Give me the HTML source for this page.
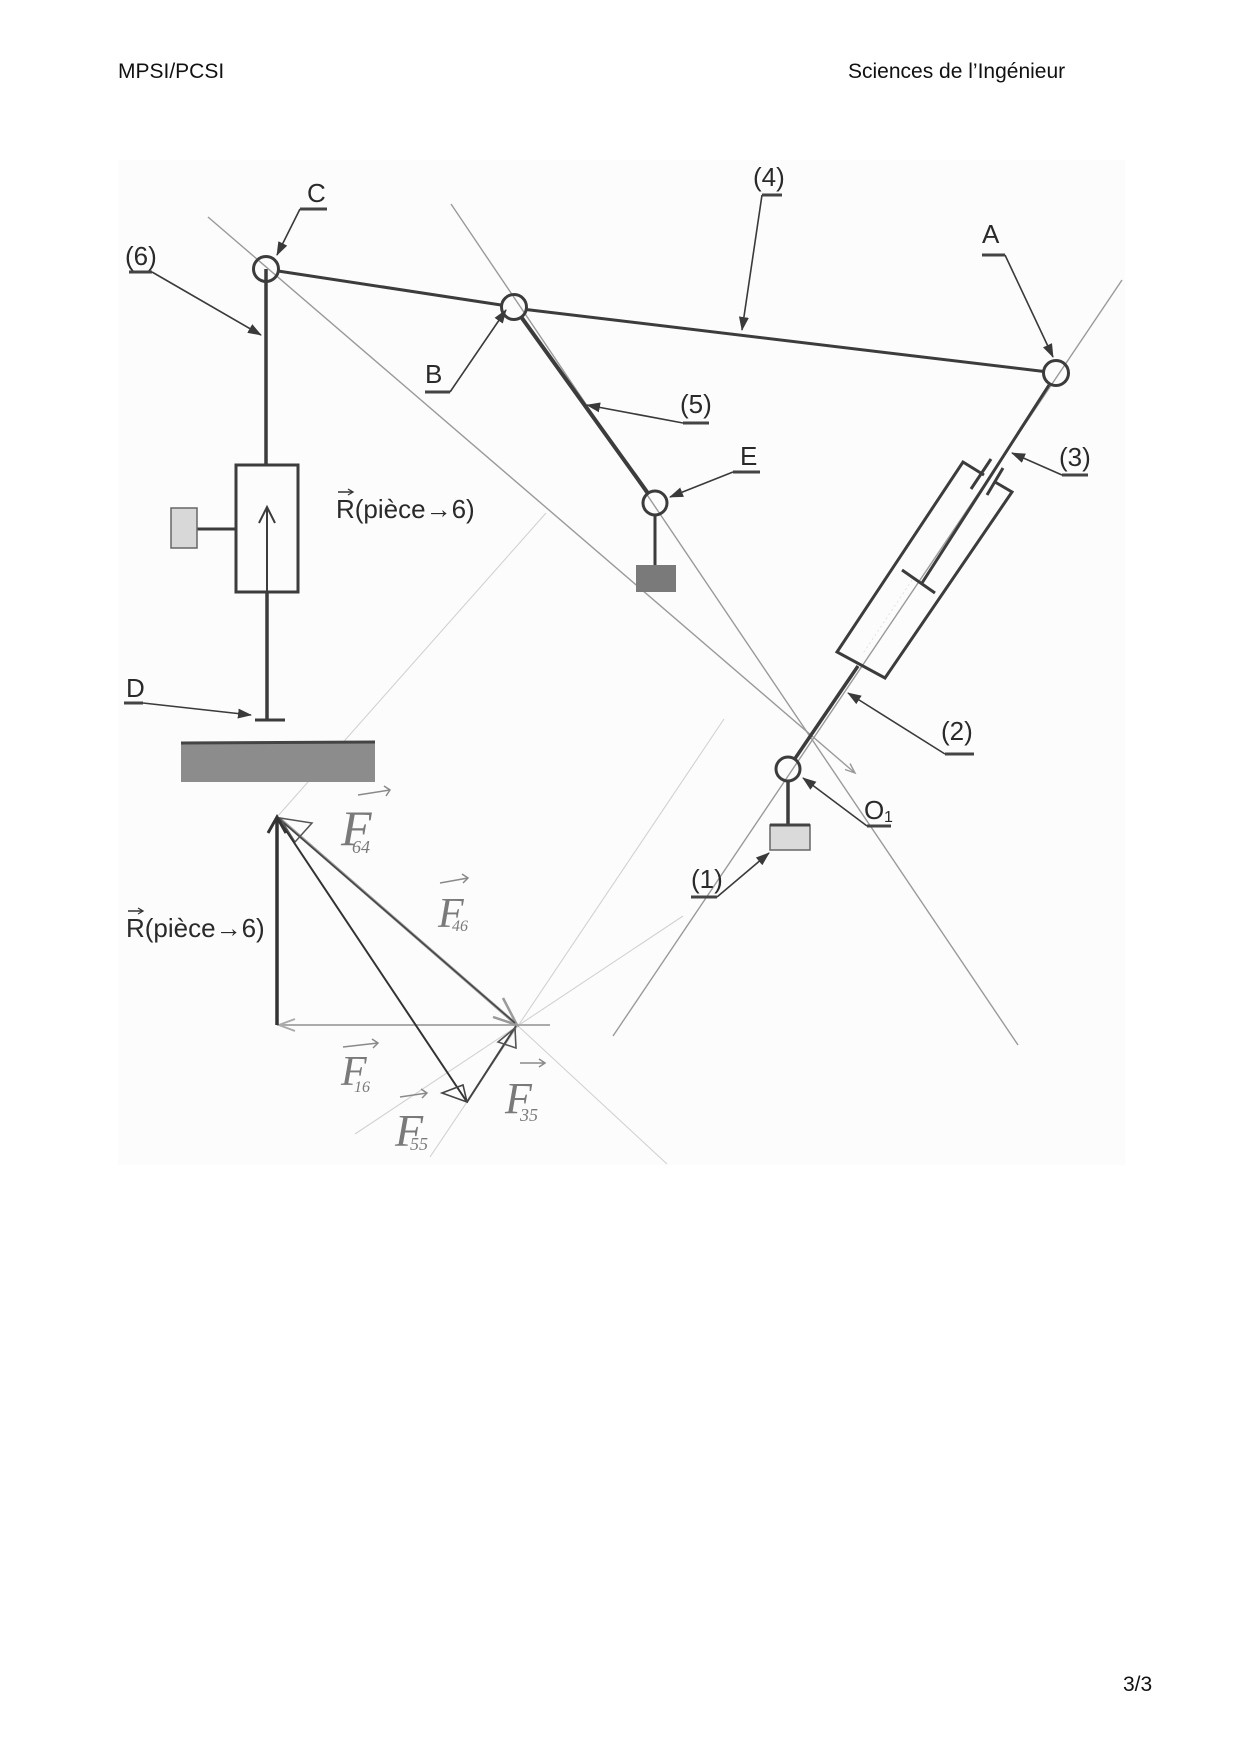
<!DOCTYPE html>
<html>
<head>
<meta charset="utf-8">
<style>
html,body{margin:0;padding:0;background:#fff;}
svg{display:block;}
text{font-family:"Liberation Sans",Arial,sans-serif;}
.lbl{font-size:26px;fill:#2a2a2a;}
.hw{font-family:"Liberation Serif",serif;font-style:italic;fill:#7a7a7a;}
</style>
</head>
<body>
<svg width="1240" height="1754" viewBox="0 0 1240 1754" xmlns="http://www.w3.org/2000/svg">
<defs>
<marker id="ah" markerWidth="14" markerHeight="10" refX="13" refY="5" orient="auto" markerUnits="userSpaceOnUse">
<path d="M0,0 L14,5 L0,10 z" fill="#3a3a3a"/>
</marker>
</defs>

<!-- header / footer -->
<text x="118" y="78" font-size="21" fill="#111">MPSI/PCSI</text>
<text x="848" y="78" font-size="21" fill="#111">Sciences de l’Ingénieur</text>
<text x="1123" y="1691" font-size="21" fill="#111">3/3</text>

<!-- scan area background -->
<rect x="118" y="160" width="1007" height="1005" fill="#fcfcfc"/>

<!-- faint construction lines -->
<g stroke="#d2d2d2" stroke-width="1.1" fill="none">
<line x1="277" y1="817" x2="546" y2="513"/>
<line x1="430" y1="1157" x2="724" y2="719"/>
<line x1="355" y1="1134" x2="683" y2="916"/>
<line x1="517" y1="1025" x2="667" y2="1164"/>
</g>

<!-- main construction lines -->
<g stroke="#9a9a9a" stroke-width="1.4" fill="none">
<line x1="208" y1="217" x2="855" y2="773"/>
<polyline points="845,769.5 855,773 850,763.5"/>
<line x1="451" y1="204" x2="1018" y2="1045"/>
<line x1="1122" y1="280" x2="613" y2="1036"/>
</g>

<!-- mechanism -->
<g stroke="#3c3c3c" fill="none" stroke-linecap="butt">
<line x1="278" y1="271" x2="501" y2="305" stroke-width="3"/>
<line x1="527" y1="309.6" x2="1043" y2="371.4" stroke-width="3"/>
<line x1="266" y1="269" x2="266" y2="465" stroke-width="3.5"/>
<rect x="236" y="465" width="62" height="127" stroke-width="3"/>
<line x1="267" y1="592" x2="267" y2="508" stroke-width="2"/>
<polyline points="259,523 267,507 275,523" stroke-width="2"/>
<line x1="267" y1="592" x2="267" y2="720" stroke-width="3.5"/>
<line x1="255" y1="720" x2="285" y2="720" stroke-width="3"/>
<line x1="197" y1="529" x2="236" y2="529" stroke-width="3"/>
<line x1="521.6" y1="317.6" x2="648" y2="493.3" stroke-width="4"/>
<line x1="655" y1="515" x2="655" y2="565" stroke-width="3"/>
<line x1="1049" y1="385" x2="922" y2="583" stroke-width="3"/>
<line x1="902" y1="570" x2="935" y2="593" stroke-width="3"/>
<polyline points="984,475 963,462 837,652 885,678 1012,492 995,482" stroke-width="3"/>
<line x1="971" y1="489" x2="991" y2="459" stroke-width="3"/>
<line x1="987" y1="495" x2="1003" y2="468" stroke-width="3"/>
<line x1="858" y1="666" x2="794.7" y2="759" stroke-width="3.5"/>
<line x1="788" y1="781" x2="788" y2="825" stroke-width="3.5"/>
<circle cx="266" cy="269" r="12.5" stroke-width="3"/>
<circle cx="514" cy="307" r="12.5" stroke-width="3"/>
<circle cx="1056" cy="373" r="12.5" stroke-width="3"/>
<circle cx="655" cy="503" r="12" stroke-width="3"/>
<circle cx="788" cy="769" r="12" stroke-width="3"/>
</g>
<line x1="912" y1="580" x2="862" y2="655" stroke="#e2e2e2" stroke-width="1" stroke-dasharray="2,3"/>

<!-- grounds -->
<rect x="171" y="508" width="26" height="40" fill="#d8d8d8" stroke="#666" stroke-width="1.5"/>
<rect x="181" y="743" width="194" height="39" fill="#8c8c8c"/>
<line x1="181" y1="743" x2="375" y2="742" stroke="#444" stroke-width="3"/>
<rect x="636" y="565" width="40" height="27" fill="#7a7a7a"/>
<rect x="770" y="825" width="40" height="25" fill="#dadada" stroke="#666" stroke-width="1.5"/>
<line x1="770" y1="825" x2="810" y2="825" stroke="#444" stroke-width="3"/>

<!-- leaders -->
<g stroke="#3a3a3a" stroke-width="1.6" fill="none" marker-end="url(#ah)">
<line x1="152" y1="272" x2="261" y2="335"/>
<line x1="300" y1="209" x2="277" y2="255"/>
<line x1="762" y1="195" x2="742" y2="330"/>
<line x1="1005" y1="255" x2="1053" y2="357"/>
<line x1="450" y1="392" x2="506" y2="310"/>
<line x1="683" y1="423" x2="587" y2="405"/>
<line x1="733" y1="472" x2="670" y2="497"/>
<line x1="1062" y1="475" x2="1012" y2="453"/>
<line x1="143" y1="703" x2="251" y2="715"/>
<line x1="945" y1="754" x2="848" y2="693"/>
<line x1="867" y1="826" x2="803" y2="778"/>
<line x1="717" y1="897" x2="769" y2="853"/>
</g>

<!-- underlines -->
<g stroke="#444" stroke-width="3">
<line x1="129" y1="272" x2="152" y2="272"/>
<line x1="300" y1="209" x2="327" y2="209"/>
<line x1="762" y1="195" x2="782" y2="195"/>
<line x1="982" y1="255" x2="1005" y2="255"/>
<line x1="425" y1="392" x2="450" y2="392"/>
<line x1="683" y1="423" x2="709" y2="423"/>
<line x1="733" y1="472" x2="760" y2="472"/>
<line x1="1062" y1="475" x2="1088" y2="475"/>
<line x1="124" y1="703" x2="143" y2="703"/>
<line x1="945" y1="754" x2="974" y2="754"/>
<line x1="867" y1="826" x2="891" y2="826"/>
<line x1="691" y1="897" x2="717" y2="897"/>
</g>

<!-- labels -->
<text class="lbl" x="125" y="265">(6)</text>
<text class="lbl" x="307" y="202">C</text>
<text class="lbl" x="753" y="186">(4)</text>
<text class="lbl" x="982" y="243">A</text>
<text class="lbl" x="425" y="383">B</text>
<text class="lbl" x="680" y="413">(5)</text>
<text class="lbl" x="740" y="465">E</text>
<text class="lbl" x="1059" y="466">(3)</text>
<text class="lbl" x="126" y="697">D</text>
<text class="lbl" x="941" y="740">(2)</text>
<text class="lbl" x="864" y="819">O</text>
<text x="884" y="822" font-size="16" fill="#2a2a2a">1</text>
<text class="lbl" x="691" y="888">(1)</text>

<text class="lbl" x="336" y="518">R(pièce→6)</text>
<line x1="338" y1="492" x2="352" y2="492" stroke="#333" stroke-width="1.5"/>
<polyline points="348,489 353,492 348,495" stroke="#333" stroke-width="1.3" fill="none"/>

<text class="lbl" x="126" y="937">R(pièce→6)</text>
<line x1="128" y1="911" x2="142" y2="911" stroke="#333" stroke-width="1.5"/>
<polyline points="138,908 143,911 138,914" stroke="#333" stroke-width="1.3" fill="none"/>

<!-- force polygon -->
<line x1="277" y1="1025" x2="550" y2="1025" stroke="#ababab" stroke-width="2"/>
<polyline points="295,1019 279,1025 295,1031" stroke="#ababab" stroke-width="2" fill="none"/>
<line x1="279" y1="818" x2="517" y2="1025" stroke="#9a9a9a" stroke-width="3"/>
<polyline points="503,998 517,1025 493,1017" stroke="#9a9a9a" stroke-width="2.5" fill="none"/>
<line x1="277" y1="817" x2="515" y2="1023" stroke="#444" stroke-width="1.5"/>
<polygon points="280,818 312,823 295,842" stroke="#555" stroke-width="1.5" fill="none"/>
<line x1="277" y1="1025" x2="277" y2="819" stroke="#333" stroke-width="3.5"/>
<polyline points="268,833 277,817 286,833" stroke="#333" stroke-width="3" fill="none"/>
<line x1="277" y1="817" x2="467" y2="1102" stroke="#333" stroke-width="2"/>
<polygon points="442,1093 463,1085 467,1102" stroke="#444" stroke-width="1.6" fill="none"/>
<line x1="467" y1="1102" x2="516" y2="1026" stroke="#444" stroke-width="2"/>
<polygon points="498,1042 515,1028 516,1048" stroke="#555" stroke-width="1.6" fill="none"/>

<!-- handwritten labels -->
<g stroke="#8a8a8a" stroke-width="1.5" fill="none">
<path d="M358,795 L390,790 M384,786 L390,790 L386,796"/>
<path d="M440,883 L468,878 M462,874 L468,878 L463,883"/>
<path d="M343,1047 L378,1043 M372,1039 L378,1043 L373,1048"/>
<path d="M400,1097 L427,1093 M421,1089 L427,1093 L422,1098"/>
<path d="M520,1063 L545,1063 M539,1059 L545,1063 L539,1067"/>
</g>
<text class="hw" x="341" y="845" font-size="50">F</text>
<text class="hw" x="352" y="853" font-size="18">64</text>
<text class="hw" x="438" y="927" font-size="42">F</text>
<text class="hw" x="452" y="931" font-size="16">46</text>
<text class="hw" x="341" y="1085" font-size="42">F</text>
<text class="hw" x="354" y="1092" font-size="16">16</text>
<text class="hw" x="395" y="1146" font-size="46">F</text>
<text class="hw" x="410" y="1150" font-size="18">55</text>
<text class="hw" x="505" y="1113" font-size="44">F</text>
<text class="hw" x="520" y="1121" font-size="18">35</text>
</svg>
</body>
</html>
